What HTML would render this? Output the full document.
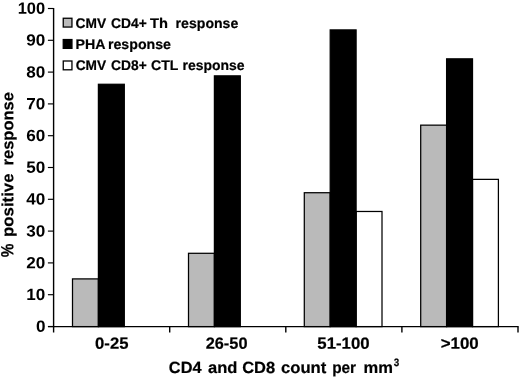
<!DOCTYPE html>
<html><head><meta charset="utf-8"><title>chart</title>
<style>
html,body{margin:0;padding:0;background:#fff;}
body{width:520px;height:377px;overflow:hidden;}
svg{display:block;}
text{font-family:"Liberation Sans",sans-serif;font-weight:bold;fill:#000;text-rendering:geometricPrecision;}
text.b{stroke:#000;stroke-width:0.2px;}
svg{filter:grayscale(1);}
</style></head><body>
<svg width="520" height="377" viewBox="0 0 520 377">
<rect x="0" y="0" width="520" height="377" fill="#fff"/>

<rect x="72.50" y="278.90" width="25.9" height="47.70" fill="#bababa" stroke="#000" stroke-width="1.25"/>
<rect x="98.40" y="84.28" width="25.9" height="242.32" fill="#000" stroke="#000" stroke-width="1.25"/>
<rect x="188.50" y="253.30" width="25.9" height="73.30" fill="#bababa" stroke="#000" stroke-width="1.25"/>
<rect x="214.40" y="75.86" width="25.9" height="250.74" fill="#000" stroke="#000" stroke-width="1.25"/>
<rect x="304.30" y="192.72" width="25.9" height="133.88" fill="#bababa" stroke="#000" stroke-width="1.25"/>
<rect x="356.10" y="211.48" width="25.9" height="115.12" fill="#fff" stroke="#000" stroke-width="1.25"/>
<rect x="330.20" y="29.91" width="25.9" height="296.69" fill="#000" stroke="#000" stroke-width="1.25"/>
<rect x="420.70" y="125.15" width="25.9" height="201.45" fill="#bababa" stroke="#000" stroke-width="1.25"/>
<rect x="472.50" y="179.37" width="25.9" height="147.23" fill="#fff" stroke="#000" stroke-width="1.25"/>
<rect x="446.60" y="58.84" width="25.9" height="267.76" fill="#000" stroke="#000" stroke-width="1.25"/>
<path d="M53.6 7.90 V327.30" stroke="#000" stroke-width="1.4" fill="none"/>
<path d="M48.0 326.6 H518.6" stroke="#000" stroke-width="1.4" fill="none"/>
<path d="M47.9 326.50 H53.6" stroke="#000" stroke-width="1.15" fill="none"/>
<text transform="translate(35.91 331.80) rotate(0.03) scale(1.05 1)" font-size="16.3">0</text>
<path d="M47.9 294.70 H53.6" stroke="#000" stroke-width="1.15" fill="none"/>
<text transform="translate(26.33 300.00) rotate(0.03) scale(1.05 1)" font-size="16.3">10</text>
<path d="M47.9 262.90 H53.6" stroke="#000" stroke-width="1.15" fill="none"/>
<text transform="translate(26.33 268.20) rotate(0.03) scale(1.05 1)" font-size="16.3">20</text>
<path d="M47.9 231.10 H53.6" stroke="#000" stroke-width="1.15" fill="none"/>
<text transform="translate(26.33 236.40) rotate(0.03) scale(1.05 1)" font-size="16.3">30</text>
<path d="M47.9 199.30 H53.6" stroke="#000" stroke-width="1.15" fill="none"/>
<text transform="translate(26.33 204.60) rotate(0.03) scale(1.05 1)" font-size="16.3">40</text>
<path d="M47.9 167.50 H53.6" stroke="#000" stroke-width="1.15" fill="none"/>
<text transform="translate(26.33 172.80) rotate(0.03) scale(1.05 1)" font-size="16.3">50</text>
<path d="M47.9 135.70 H53.6" stroke="#000" stroke-width="1.15" fill="none"/>
<text transform="translate(26.33 141.00) rotate(0.03) scale(1.05 1)" font-size="16.3">60</text>
<path d="M47.9 103.90 H53.6" stroke="#000" stroke-width="1.15" fill="none"/>
<text transform="translate(26.33 109.20) rotate(0.03) scale(1.05 1)" font-size="16.3">70</text>
<path d="M47.9 72.10 H53.6" stroke="#000" stroke-width="1.15" fill="none"/>
<text transform="translate(26.33 77.40) rotate(0.03) scale(1.05 1)" font-size="16.3">80</text>
<path d="M47.9 40.30 H53.6" stroke="#000" stroke-width="1.15" fill="none"/>
<text transform="translate(26.33 45.60) rotate(0.03) scale(1.05 1)" font-size="16.3">90</text>
<path d="M47.9 8.50 H53.6" stroke="#000" stroke-width="1.15" fill="none"/>
<text transform="translate(17.63 13.80) rotate(0.03) scale(1.01 1)" font-size="16.3">100</text>
<path d="M53.60 326.6 V332.5" stroke="#000" stroke-width="1.4" fill="none"/>
<path d="M169.70 326.6 V332.5" stroke="#000" stroke-width="1.4" fill="none"/>
<path d="M285.80 326.6 V332.5" stroke="#000" stroke-width="1.4" fill="none"/>
<path d="M401.90 326.6 V332.5" stroke="#000" stroke-width="1.4" fill="none"/>
<path d="M518.00 326.6 V332.5" stroke="#000" stroke-width="1.4" fill="none"/>
<text class="b" transform="translate(95.06 348.7) rotate(0.03) scale(1.0295 1)" font-size="16.2">0-25</text>
<text class="b" transform="translate(205.72 348.7) rotate(0.03) scale(1.0081 1)" font-size="16.2">26-50</text>
<text class="b" transform="translate(317.33 348.7) rotate(0.03) scale(1.0365 1)" font-size="16.2">51-100</text>
<text class="b" transform="translate(440.70 348.7) rotate(0.03) scale(1.0434 1)" font-size="16.2">&gt;100</text>
<text class="b" transform="translate(168.87 373.0) rotate(0.03) scale(1.0087 1)" font-size="16.2">CD4</text>
<text class="b" transform="translate(208.09 373.0) rotate(0.03) scale(1.0202 1)" font-size="16.2">and</text>
<text class="b" transform="translate(242.21 373.0) rotate(0.03) scale(1.0176 1)" font-size="16.2">CD8</text>
<text class="b" transform="translate(280.96 373.0) rotate(0.03) scale(1.0301 1)" font-size="16.2">count</text>
<text class="b" transform="translate(332.13 373.0) rotate(0.03) scale(0.9508 1)" font-size="16.2">per</text>
<text class="b" transform="translate(363.45 373.0) rotate(0.03) scale(1.0216 1)" font-size="16.2">mm</text>
<text class="b" transform="translate(393.72 366.2) rotate(0.03) scale(0.9116 1)" font-size="10.8">3</text>
<text class="b" transform="translate(75.59 28.0) rotate(0.03) scale(0.9811 1)" font-size="14">CMV</text>
<text class="b" transform="translate(110.98 28.0) rotate(0.03) scale(0.9871 1)" font-size="14">CD4+</text>
<text class="b" transform="translate(149.97 28.0) rotate(0.03) scale(1.0481 1)" font-size="14">Th</text>
<text class="b" transform="translate(175.62 28.0) rotate(0.03) scale(1.0062 1)" font-size="14">response</text>
<text class="b" transform="translate(75.58 49.0) rotate(0.03) scale(1.0151 1)" font-size="14">PHA</text>
<text class="b" transform="translate(107.96 49.0) rotate(0.03) scale(1.0127 1)" font-size="14">response</text>
<text class="b" transform="translate(75.69 70.0) rotate(0.03) scale(0.9778 1)" font-size="14">CMV</text>
<text class="b" transform="translate(111.08 70.0) rotate(0.03) scale(0.9857 1)" font-size="14">CD8+</text>
<text class="b" transform="translate(151.07 70.0) rotate(0.03) scale(1.0029 1)" font-size="14">CTL</text>
<text class="b" transform="translate(182.53 70.0) rotate(0.03) scale(0.9971 1)" font-size="14">response</text>
<text class="b" transform="translate(13.3 257.31) rotate(-89.97) scale(0.9468 1.08)" font-size="16.2">%</text>
<text class="b" transform="translate(13.3 236.92) rotate(-89.97) scale(1.0370 1)" font-size="16.2">positive</text>
<text class="b" transform="translate(13.3 165.50) rotate(-89.97) scale(1.0214 1)" font-size="16.2">response</text>
<rect x="63.25" y="18.25" width="8.7" height="8.8" fill="#bababa" stroke="#000" stroke-width="1.3"/>
<rect x="63.25" y="39.55" width="8.7" height="8.8" fill="#000" stroke="#000" stroke-width="1.3"/>
<rect x="63.25" y="61.00" width="8.7" height="8.8" fill="#fff" stroke="#000" stroke-width="1.3"/>
</svg></body></html>
